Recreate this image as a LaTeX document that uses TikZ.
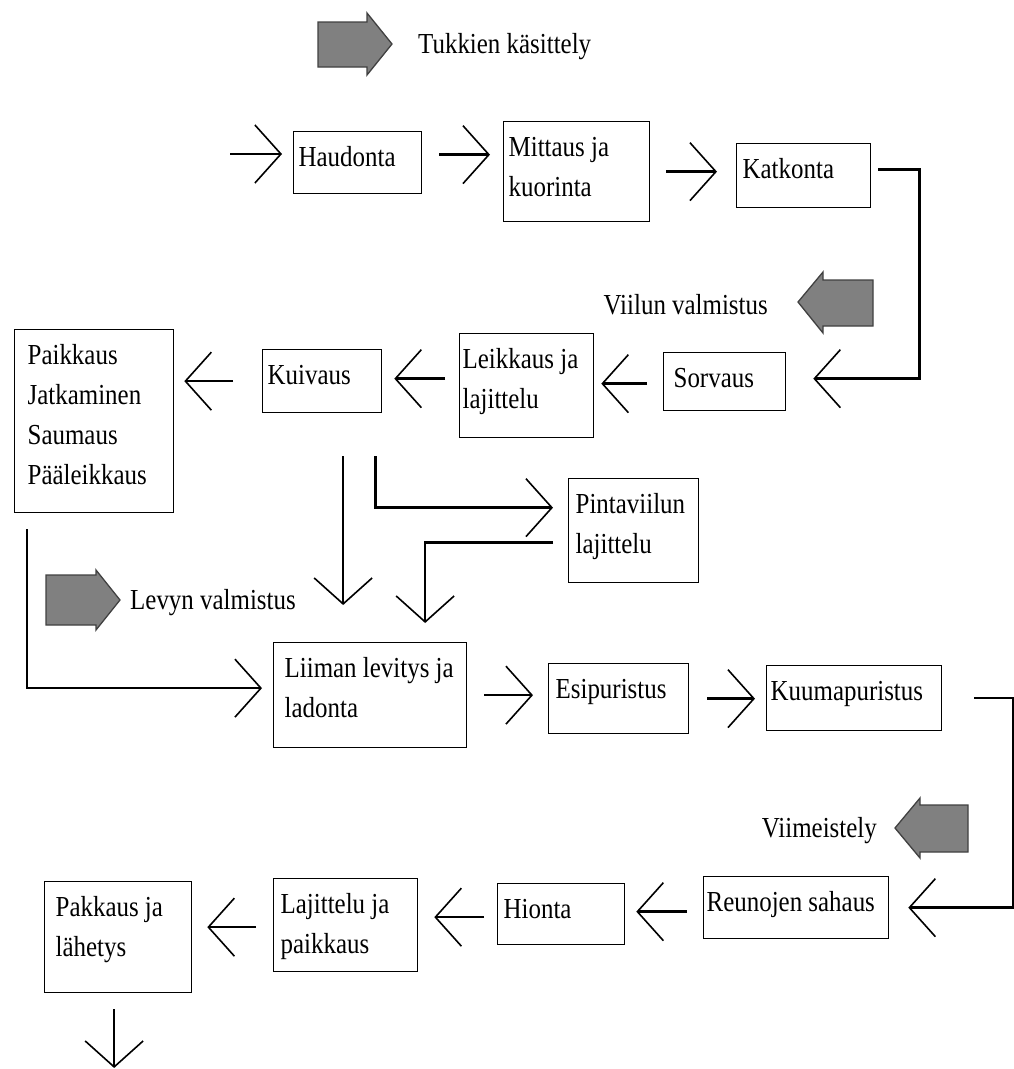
\documentclass[tikz,border=0pt]{standalone}
\usepackage{fontspec}
\setmainfont[FakeStretch=0.86]{Liberation Serif}
\usetikzlibrary{arrows.meta}
\usetikzlibrary{positioning}

% text of a stage box: [indent]{width}{height}{lines}, set at the top left
\newcommand\stagebox[4][5pt]{\parbox[c][#3][t]{#2}{\raggedright\leftskip=#1\rule{0pt}{35pt}#4}}

\begin{document}
\begin{tikzpicture}[x=1pt,y=-1pt,font=\fontsize{29}{40}\selectfont,
    stage/.style={draw, line width=1.3pt, inner sep=0pt, anchor=north west},
    flow/.style={line width=2.4pt, -{Straight Barb[length=26pt,width=58pt,line width=1.6pt]}},
    phase/.style={draw=black!75, line width=1.3pt, fill=gray},
    phaselabel/.style={inner sep=0pt, yshift=-3pt}]
    \useasboundingbox (0,0) rectangle (1014,1069);

    % Phase markers:
    % grey block arrows, the text sits beside the tip
    \filldraw[phase] (318,22) -- (367,22) -- (367,13) -- (392,44) coordinate (ph1) -- (367,75) -- (367,67) -- (318,67) -- cycle;
    \node[phaselabel, right=26pt of ph1] (ph1txt) {Tukkien käsittely};
    \filldraw[phase] (873,280) -- (823,280) -- (823,272) -- (798,302) coordinate (ph2) -- (823,333) -- (823,326) -- (873,326) -- cycle;
    \node[phaselabel, left=30pt of ph2] (ph2txt) {Viilun valmistus};
    \filldraw[phase] (46,575) -- (96,575) -- (96,570) -- (120,600) coordinate (ph3) -- (96,630) -- (96,625) -- (46,625) -- cycle;
    \node[phaselabel, right=10pt of ph3] (ph3txt) {Levyn valmistus};
    \filldraw[phase] (968,805) -- (920,805) -- (920,798) -- (895,828) coordinate (ph4) -- (920,858) -- (920,852) -- (968,852) -- cycle;
    \node[phaselabel, left=18pt of ph4] (ph4txt) {Viimeistely};

    % Stages:
    \node[stage] (haud) at (293,131) {\stagebox{128pt}{62pt}{Haudonta}};
    \node[stage] (mitt) at (503,121) {\stagebox{146pt}{100pt}{Mittaus ja\\kuorinta}};
    \node[stage] (katk) at (736,143) {\stagebox[6pt]{134pt}{64pt}{Katkonta}};
    \node[stage] (sorv) at (663,352) {\stagebox[10pt]{122pt}{58pt}{Sorvaus}};
    \node[stage] (leik) at (459,333) {\stagebox[3pt]{134pt}{104pt}{Leikkaus ja\\lajittelu}};
    \node[stage] (kuiv) at (262,349) {\stagebox{119pt}{63pt}{Kuivaus}};
    \node[stage] (paik) at (14,329) {\stagebox[13pt]{159pt}{183pt}{Paikkaus\\Jatkaminen\\Saumaus\\Pääleikkaus}};
    \node[stage] (pint) at (568,478) {\stagebox[7pt]{130pt}{104pt}{Pintaviilun\\lajittelu}};
    \node[stage] (liim) at (273,642) {\stagebox[11pt]{193pt}{105pt}{Liiman levitys ja\\ladonta}};
    \node[stage] (esip) at (548,663) {\stagebox[7pt]{140pt}{70pt}{Esipuristus}};
    \node[stage] (kuum) at (766,665) {\stagebox[4pt]{175pt}{65pt}{Kuumapuristus}};
    \node[stage] (reun) at (703,876) {\stagebox[3pt]{185pt}{62pt}{Reunojen sahaus}};
    \node[stage] (hion) at (497,883) {\stagebox[6pt]{127pt}{61pt}{Hionta}};
    \node[stage] (lajt) at (273,878) {\stagebox[7pt]{144pt}{93pt}{Lajittelu ja\\paikkaus}};
    \node[stage] (pakk) at (44,881) {\stagebox[11pt]{147pt}{111pt}{Pakkaus ja\\lähetys}};

    % Free ends
    \coordinate (start) at (230,154);
    \coordinate (finish) at (113,1068);

    % Log handling
    \draw[flow, shorten >=11pt] (start) -- (start -| haud.west);
    \draw[flow, shorten <=17pt, shorten >=13pt] ([yshift=8pt]haud.east) -- ([yshift=8pt]haud.east -| mitt.west);
    \draw[flow, shorten <=16pt, shorten >=19pt] (mitt.east) -- (mitt.east -| katk.west);
    \draw[flow, shorten <=7pt, shorten >=27pt] ([yshift=6pt]katk.east) -- ++(48,0) |- ([yshift=3pt]sorv.east);

    % Veneer
    \draw[flow, shorten <=16pt, shorten >=7pt] ([yshift=-2pt]sorv.west) -- ([yshift=-2pt]sorv.west -| leik.east);
    \draw[flow, shorten <=14pt, shorten >=12pt] ([yshift=7pt]leik.west) -- ([yshift=7pt]leik.west -| kuiv.east);
    \draw[flow, shorten <=29pt, shorten >=10pt] (kuiv.west) -- (kuiv.west -| paik.east);
    \draw[flow, shorten <=43pt, shorten >=37pt] ([xshift=21pt]kuiv.south) -- ([xshift=21pt]kuiv.south |- liim.north);
    \draw[flow, shorten <=43pt, shorten >=15pt] ([xshift=-7pt]kuiv.south east) |- ([yshift=23pt]pint.west);
    \draw[flow, shorten <=15pt, shorten >=19pt] ([yshift=-12pt]pint.west) -| ([xshift=55pt]liim.north);
    \draw[flow, shorten <=16pt, shorten >=11pt] ([xshift=13pt]paik.south west) |- ([yshift=7pt]liim.west);

    % Board
    \draw[flow, shorten <=17pt, shorten >=15pt] (liim.east) -- (liim.east -| esip.west);
    \draw[flow, shorten <=18pt, shorten >=11pt] (esip.east) -- (esip.east -| kuum.west);
    \draw[flow, shorten <=32pt, shorten >=19pt] (kuum.east) -- ++(71,0) |- (reun.east);

    % Finishing
    \draw[flow, shorten <=16pt, shorten >=11pt] ([yshift=-4pt]reun.west) -- ([yshift=-4pt]reun.west -| hion.east);
    \draw[flow, shorten <=13pt, shorten >=16pt] ([yshift=-3pt]hion.west) -- ([yshift=-3pt]hion.west -| lajt.east);
    \draw[flow, shorten <=17pt, shorten >=15pt] ([yshift=-2pt]lajt.west) -- ([yshift=-2pt]lajt.west -| pakk.east);
    \draw[flow, shorten <=16pt] ([xshift=-4pt]pakk.south) -- ([xshift=-4pt]pakk.south |- finish);
\end{tikzpicture}
\end{document}
